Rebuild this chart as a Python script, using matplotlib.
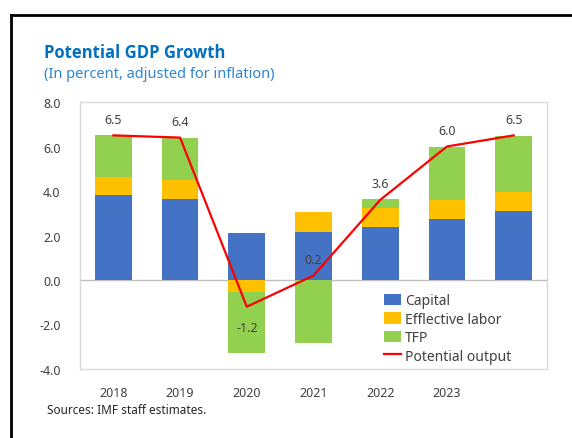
import matplotlib

matplotlib.use("Agg")
import matplotlib.pyplot as plt
from matplotlib.lines import Line2D
import numpy as np

plt.rcParams["font.family"] = ["Noto Sans", "DejaVu Sans"]

years = ["2018", "2019", "2020", "2021", "2022", "2023", "2024"]
tick_labels = ["2018", "2019", "2020", "2021", "2022", "2023", ""]
capital = [3.8, 3.65, 2.1, 2.15, 2.4, 2.75, 3.1]
labor = [0.85, 0.85, -0.55, 0.9, 0.85, 0.85, 0.85]
tfp = [1.85, 1.9, -2.75, -2.85, 0.4, 2.4, 2.5]
potential = [6.5, 6.4, -1.2, 0.2, 3.6, 6.0, 6.5]

BLUE = "#4472C4"
ORANGE = "#FFC000"
GREEN = "#92D050"
RED = "#FF0000"
TEXT = "#404040"
TITLE = "#0070C0"

fig = plt.figure(figsize=(5.72, 4.39), dpi=100)
ax = fig.add_axes([80 / 572, 1 - 370 / 439, 467 / 572, 267 / 439])

x = np.arange(len(years))
cap = np.array(capital)
lab = np.array(labor)
tf = np.array(tfp)

# stack positives up and negatives down separately
pos_base = np.zeros(len(x))
neg_base = np.zeros(len(x))
for vals, color, name in [(cap, BLUE, "Capital"), (lab, ORANGE, "Efflective labor"), (tf, GREEN, "TFP")]:
    bottoms = np.where(vals >= 0, pos_base, neg_base)
    ax.bar(x, vals, width=0.55, bottom=bottoms, color=color, label=name, zorder=2)
    pos_base = pos_base + np.where(vals >= 0, vals, 0)
    neg_base = neg_base + np.where(vals < 0, vals, 0)

ax.plot(x, potential, color=RED, linewidth=1.6, label="Potential output", zorder=3)

for i, v in enumerate(potential):
    if v < 0:
        ax.annotate(f"{v:.1f}", (i, v), xytext=(0, -10), textcoords="offset points",
                    ha="center", va="top", fontsize=9, color=TEXT, zorder=4)
    else:
        ax.annotate(f"{v:.1f}", (i, v), xytext=(0, 7), textcoords="offset points",
                    ha="center", va="bottom", fontsize=9, color=TEXT, zorder=4)

ax.axhline(0, color="#BFBFBF", linewidth=1, zorder=1)
ax.set_xlim(-0.5, len(x) - 0.5)
ax.set_ylim(-4, 8)
ax.set_yticks(np.arange(-4, 8.1, 2))
ax.set_yticklabels([f"{t:.1f}" for t in np.arange(-4, 8.1, 2)])
ax.set_xticks(x)
ax.set_xticklabels(tick_labels)
ax.tick_params(length=0, labelsize=9, colors=TEXT)
ax.tick_params(axis="y", pad=14)
ax.tick_params(axis="x", pad=12)
for s in ax.spines.values():
    s.set_color("#D9D9D9")
    s.set_linewidth(1)

handles, labels = ax.get_legend_handles_labels()
# bars first, line last
order = [1, 2, 3, 0]
ax.legend([handles[i] for i in order], [labels[i] for i in order],
          loc="upper left", bbox_to_anchor=(0.64, 0.305), frameon=False, fontsize=10,
          handlelength=1.2, handleheight=0.9, handletextpad=0.3, labelspacing=0.25,
          borderaxespad=0, labelcolor=TEXT)

fig.text(44 / 572, 1 - 53 / 439, "Potential GDP Growth", fontsize=12, fontweight="bold",
         family=["Open Sans", "DejaVu Sans"], color=TITLE, va="center", ha="left")
fig.text(44 / 572, 1 - 75 / 439, "(In percent, adjusted for inflation)", fontsize=10.5,
         color="#2E86D1", va="center", ha="left")
fig.text(47 / 572, 1 - 411 / 439, "Sources: IMF staff estimates.", fontsize=8.5,
         color="#262626", va="center", ha="left")

# black frame lines at top and left
fig.add_artist(Line2D([10.5 / 572, 10.5 / 572], [0, 1 - 15.5 / 439], color="black",
                      linewidth=2, transform=fig.transFigure))
fig.add_artist(Line2D([10.5 / 572, 1], [1 - 15.5 / 439, 1 - 15.5 / 439], color="black",
                      linewidth=2, transform=fig.transFigure))

fig.savefig("out.png", dpi=100)
